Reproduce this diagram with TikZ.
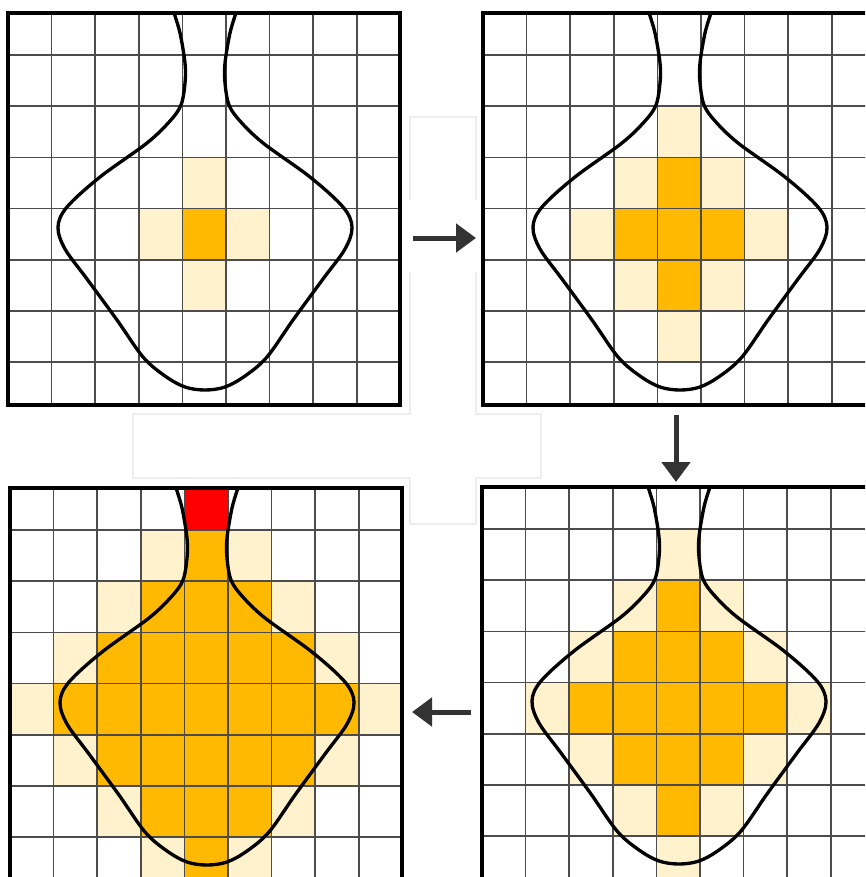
\documentclass[tikz,border=0pt]{standalone}
\usetikzlibrary{arrows.meta}
\definecolor{ambre}{RGB}{255,185,0}
\definecolor{paleambre}{RGB}{255,242,204}
\definecolor{ghostgray}{RGB}{238,238,238}

% one step of the flood: #1 name, #2/#3 top-left corner, #4 reach, #5 extra cells
\newcommand{\grille}[5]{%
  \begin{scope}[shift={(#2,#3)}]
    \coordinate (#1) at (0,0);
    \begin{scope}
      \clip (0,0) rectangle (392,392);
      \foreach \c in {0,...,8}
        \foreach \r in {0,...,7} {
          \pgfmathtruncatemacro{\d}{abs(\c-4)+abs(\r-4)}
          \ifnum\d<#4 \fill[ambre] (\c*43.6,\r*51.2-9.2) rectangle ++(43.6,51.2);\fi
          \ifnum\d=#4 \fill[paleambre] (\c*43.6,\r*51.2-9.2) rectangle ++(43.6,51.2);\fi
        }
      #5
      \foreach \c in {1,...,8} \draw[gridline] (\c*43.6,0) -- (\c*43.6,392);
      \foreach \r in {1,...,7} \draw[gridline] (0,\r*51.2-9.2) -- (392,\r*51.2-9.2);
      \draw[vase] plot[smooth,tension=0.55] coordinates {
        (166,0) (172,20) (177,50) (177,70) (173,92) (162,108) (139,130)
        (92,164) (59,194) (50,214) (57,236) (79,266) (109,307) (135,344)
        (157,363) (177,374) (197,377) (217,374) (237,363) (259,344) (285,307)
        (315,266) (337,236) (344,214) (335,194) (302,164) (255,130) (232,108)
        (221,92) (217,70) (217,50) (222,20) (228,0)};
    \end{scope}
    \draw[frame] (0,0) rectangle (392,392);
  \end{scope}}

\begin{document}
\begin{tikzpicture}[x=0.1mm,y=-0.1mm,
  gridline/.style={draw=black!70,line width=0.42pt},
  frame/.style={draw=black,line width=1.1pt},
  vase/.style={draw=black,line width=0.95pt},
  flow/.style={draw=black!80,line width=0.5mm,
    -{Triangle[length=2mm,width=2.8mm]}},
  ghost/.style={draw=ghostgray,line width=0.4pt}]
\clip (0,0) rectangle (865,877);

% faint box behind the arrows
\draw[ghost] (410,117) -- (476,117) -- (476,414) -- (541,414) -- (541,478)
  -- (476,478) -- (476,524) -- (410,524) -- (410,478) -- (133,478)
  -- (133,414) -- (410,414) -- cycle;
\fill[white] (406,200) rectangle (480,272);

\grille{p1}{8}{13}{1}{}
\grille{p2}{483}{13}{2}{}
\grille{p4}{482}{487}{3}{}
\grille{p3}{10}{488}{4}{\fill[red] (4*43.6,-9.2) rectangle ++(43.6,51.2);}

\coordinate (a1) at (413,238);
\coordinate (a2) at (476,238);
\coordinate (b1) at (676,415);
\coordinate (b2) at (676,482);
\coordinate (c1) at (471,712);
\coordinate (c2) at (412,712);
\draw[flow] (a1) -- (a2);
\draw[flow] (b1) -- (b2);
\draw[flow] (c1) -- (c2);
\end{tikzpicture}
\end{document}
